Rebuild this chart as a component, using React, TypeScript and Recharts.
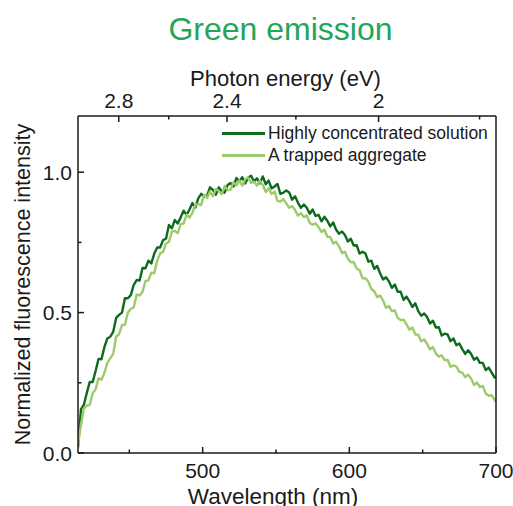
import React from 'react';
import { LineChart, Line, XAxis, YAxis, Legend, Label } from 'recharts';

// Emission spectra sampled on a 2 nm grid (plus the 700 nm end point)
const WAVELENGTH_NM = [
  415, 417, 419, 421, 423, 425, 427, 429, 431, 433, 435, 437, 439, 441, 443, 445,
  447, 449, 451, 453, 455, 457, 459, 461, 463, 465, 467, 469, 471, 473, 475, 477,
  479, 481, 483, 485, 487, 489, 491, 493, 495, 497, 499, 501, 503, 505, 507, 509,
  511, 513, 515, 517, 519, 521, 523, 525, 527, 529, 531, 533, 535, 537, 539, 541,
  543, 545, 547, 549, 551, 553, 555, 557, 559, 561, 563, 565, 567, 569, 571, 573,
  575, 577, 579, 581, 583, 585, 587, 589, 591, 593, 595, 597, 599, 601, 603, 605,
  607, 609, 611, 613, 615, 617, 619, 621, 623, 625, 627, 629, 631, 633, 635, 637,
  639, 641, 643, 645, 647, 649, 651, 653, 655, 657, 659, 661, 663, 665, 667, 669,
  671, 673, 675, 677, 679, 681, 683, 685, 687, 689, 691, 693, 695, 697, 699, 700,
];

const CONCENTRATED = [
  0.02, 0.155, 0.172, 0.214, 0.253, 0.253, 0.292, 0.335, 0.334, 0.377, 0.408, 0.414, 0.431, 0.481, 0.492, 0.5,
  0.551, 0.551, 0.562, 0.599, 0.616, 0.614, 0.659, 0.658, 0.685, 0.675, 0.71, 0.732, 0.732, 0.758, 0.763, 0.812,
  0.8, 0.83, 0.817, 0.839, 0.863, 0.848, 0.867, 0.89, 0.874, 0.907, 0.923, 0.914, 0.916, 0.946, 0.937, 0.92,
  0.946, 0.931, 0.927, 0.954, 0.961, 0.949, 0.979, 0.968, 0.982, 0.96, 0.98, 0.987, 0.967, 0.978, 0.96, 0.985,
  0.957, 0.97, 0.942, 0.949, 0.958, 0.923, 0.927, 0.935, 0.928, 0.902, 0.914, 0.891, 0.873, 0.885, 0.873, 0.852,
  0.867, 0.844, 0.848, 0.825, 0.841, 0.827, 0.807, 0.821, 0.795, 0.781, 0.789, 0.776, 0.753, 0.763, 0.739, 0.74,
  0.71, 0.717, 0.71, 0.681, 0.685, 0.656, 0.666, 0.64, 0.618, 0.626, 0.611, 0.588, 0.6, 0.574, 0.574, 0.545,
  0.557, 0.54, 0.52, 0.533, 0.505, 0.489, 0.497, 0.484, 0.461, 0.471, 0.447, 0.448, 0.418, 0.425, 0.422, 0.398,
  0.408, 0.384, 0.39, 0.37, 0.353, 0.366, 0.353, 0.332, 0.34, 0.321, 0.321, 0.295, 0.304, 0.287, 0.269, 0.27,
];

const AGGREGATE = [
  0.03, 0.1, 0.158, 0.169, 0.171, 0.213, 0.227, 0.266, 0.261, 0.285, 0.321, 0.337, 0.353, 0.415, 0.423, 0.456,
  0.457, 0.5, 0.513, 0.519, 0.564, 0.561, 0.574, 0.612, 0.615, 0.642, 0.64, 0.685, 0.711, 0.716, 0.746, 0.752,
  0.788, 0.791, 0.783, 0.815, 0.817, 0.849, 0.838, 0.855, 0.884, 0.887, 0.883, 0.92, 0.908, 0.931, 0.915, 0.94,
  0.933, 0.922, 0.951, 0.936, 0.938, 0.964, 0.953, 0.971, 0.952, 0.975, 0.981, 0.962, 0.966, 0.952, 0.97, 0.954,
  0.929, 0.943, 0.922, 0.931, 0.898, 0.895, 0.904, 0.889, 0.873, 0.879, 0.865, 0.845, 0.854, 0.84, 0.846, 0.819,
  0.813, 0.818, 0.804, 0.787, 0.795, 0.77, 0.769, 0.746, 0.752, 0.735, 0.712, 0.717, 0.692, 0.679, 0.68, 0.657,
  0.651, 0.622, 0.622, 0.61, 0.584, 0.576, 0.555, 0.561, 0.543, 0.517, 0.523, 0.505, 0.508, 0.481, 0.473, 0.475,
  0.458, 0.439, 0.447, 0.422, 0.421, 0.398, 0.404, 0.389, 0.369, 0.377, 0.354, 0.343, 0.348, 0.331, 0.331, 0.307,
  0.312, 0.308, 0.289, 0.286, 0.27, 0.279, 0.265, 0.242, 0.251, 0.235, 0.239, 0.212, 0.204, 0.206, 0.189, 0.182,
];

const SERIES_NAMES = ['Highly concentrated solution', 'A trapped aggregate'];

const WL_TICKS = [450, 500, 550, 600, 650, 700];
const WL_LABELS = ['', '500', '', '600', '', '700'];
const Y_TICKS = [0, 0.25, 0.5, 0.75, 1.0];
const Y_LABELS = ['0.0', '', '0.5', '', '1.0'];
const EV_TICKS = [2.8, 2.6, 2.4, 2.2, 2.0, 1.8];
const EV_LABELS = ['2.8', '', '2.4', '', '2', ''];

// photon energy (eV) <-> wavelength (nm)
const HC_EV_NM = 1239.84;

const DARK = '#0e6a1f';
const LIGHT = '#9dca6b';
const AXIS = '#1a1a1a';
const FONT = '"Liberation Sans", Arial, sans-serif';

const rows = WAVELENGTH_NM.map((wl, i) => ({
  wl,
  concentrated: CONCENTRATED[i],
  aggregate: AGGREGATE[i],
}));

const nmTicksForEv = EV_TICKS.map((e) => HC_EV_NM / e);

// Inward-pointing ticks: long for labelled values, short for minor ones
const BottomTick = (props: any) => {
  const { x, y, index } = props;
  const label = WL_LABELS[index] ?? '';
  const len = label ? 6 : 3.5;
  return (
    <g>
      <line x1={x} y1={y} x2={x} y2={y - len} stroke={AXIS} strokeWidth={1.5} />
      {label && (
        <text x={x} y={y + 25} textAnchor="middle" fontSize={21} fontFamily={FONT} fill="#1a1a1a">
          {label}
        </text>
      )}
    </g>
  );
};

const TopTick = (props: any) => {
  const { x, y, index } = props;
  const label = EV_LABELS[index] ?? '';
  const len = label ? 6 : 3.5;
  return (
    <g>
      <line x1={x} y1={y} x2={x} y2={y + len} stroke={AXIS} strokeWidth={1.5} />
      {label && (
        <text x={x} y={y - 8} textAnchor="middle" fontSize={21} fontFamily={FONT} fill="#1a1a1a">
          {label}
        </text>
      )}
    </g>
  );
};

const LeftTick = (props: any) => {
  const { x, y, index } = props;
  const label = Y_LABELS[index] ?? '';
  const len = label ? 6 : 3.5;
  return (
    <g>
      <line x1={x} y1={y} x2={x + len} y2={y} stroke={AXIS} strokeWidth={1.5} />
      {label && (
        <text x={x - 6} y={y + 7.5} textAnchor="end" fontSize={21} fontFamily={FONT} fill="#1a1a1a">
          {label}
        </text>
      )}
    </g>
  );
};

const LegendBox = () => (
  <div style={{ fontFamily: FONT, fontSize: 17.5, color: '#1a1a1a', lineHeight: '21.5px' }}>
    {SERIES_NAMES.map((name, i) => (
      <div key={name} style={{ display: 'flex', alignItems: 'center', height: 21.5 }}>
        <span
          style={{
            display: 'inline-block',
            width: 43,
            height: i === 0 ? 3 : 2.5,
            background: i === 0 ? DARK : LIGHT,
            marginRight: 3,
          }}
        />
        <span>{name}</span>
      </div>
    ))}
  </div>
);

export default function App() {
  return (
    <div style={{ position: 'absolute', left: 0, top: 0, width: 513, height: 506, background: '#fff' }}>
      <div
        style={{
          position: 'absolute',
          left: 0,
          top: 13,
          width: 561,
          textAlign: 'center',
          fontFamily: FONT,
          fontSize: 32,
          lineHeight: '32px',
          color: '#22a659',
          whiteSpace: 'nowrap',
        }}
      >
        Green emission
      </div>
      <LineChart
        width={513}
        height={506}
        data={rows}
        margin={{ top: 0, right: 0, bottom: 0, left: 0 }}
        style={{ position: 'absolute', left: 0, top: 0 }}
      >
        <XAxis
          xAxisId="bottom"
          dataKey="wl"
          type="number"
          domain={[415, 700]}
          allowDataOverflow
          ticks={WL_TICKS}
          interval={0}
          height={53}
          tickSize={0}
          tickMargin={0}
          tickLine={false}
          tick={<BottomTick />}
          axisLine={{ stroke: AXIS, strokeWidth: 1.5 }}
        >
          <Label
            content={(p: any) => {
              const vb = p.viewBox;
              return (
                <text
                  x={vb.x + vb.width / 2 - 14}
                  y={vb.y + 51}
                  textAnchor="middle"
                  fontSize={22.5}
                  fontFamily={FONT}
                  fill="#1a1a1a"
                >
                  Wavelength (nm)
                </text>
              );
            }}
          />
        </XAxis>
        <XAxis
          xAxisId="top"
          orientation="top"
          dataKey="wl"
          type="number"
          domain={[415, 700]}
          allowDataOverflow
          ticks={nmTicksForEv}
          interval={0}
          height={116}
          tickSize={0}
          tickMargin={0}
          tickLine={false}
          tick={<TopTick />}
          axisLine={{ stroke: AXIS, strokeWidth: 1.5 }}
        >
          <Label
            content={(p: any) => {
              const vb = p.viewBox;
              return (
                <text
                  x={vb.x + vb.width / 2 - 1.5}
                  y={vb.y + vb.height - 30}
                  textAnchor="middle"
                  fontSize={22}
                  fontFamily={FONT}
                  fill="#1a1a1a"
                >
                  Photon energy (eV)
                </text>
              );
            }}
          />
        </XAxis>
        <YAxis
          yAxisId="left"
          type="number"
          domain={[0, 1.2]}
          allowDataOverflow
          ticks={Y_TICKS}
          interval={0}
          width={78}
          tickSize={0}
          tickMargin={0}
          tickLine={false}
          tick={<LeftTick />}
          axisLine={{ stroke: AXIS, strokeWidth: 1.5 }}
        >
          <Label
            content={(p: any) => {
              const vb = p.viewBox;
              const cx = 30;
              const cy = vb.y + vb.height / 2;
              return (
                <text
                  x={cx}
                  y={cy}
                  transform={`rotate(-90, ${cx}, ${cy})`}
                  textAnchor="middle"
                  fontSize={21.5}
                  fontFamily={FONT}
                  fill="#1a1a1a"
                >
                  Normalized fluorescence intensity
                </text>
              );
            }}
          />
        </YAxis>
        <YAxis
          yAxisId="right"
          orientation="right"
          type="number"
          domain={[0, 1.2]}
          width={17}
          tick={false}
          tickLine={false}
          axisLine={{ stroke: AXIS, strokeWidth: 1.5 }}
        />
        <Legend
          layout="horizontal"
          verticalAlign="middle"
          align="center"
          content={<LegendBox />}
          wrapperStyle={{ left: 222, top: 123, width: 285, height: 44 }}
        />
        <Line
          xAxisId="bottom"
          yAxisId="left"
          type="linear"
          dataKey="concentrated"
          name={SERIES_NAMES[0]}
          stroke={DARK}
          strokeWidth={2.4}
          strokeLinejoin="round"
          dot={false}
          isAnimationActive={false}
        />
        <Line
          xAxisId="bottom"
          yAxisId="left"
          type="linear"
          dataKey="aggregate"
          name={SERIES_NAMES[1]}
          stroke={LIGHT}
          strokeWidth={2.4}
          strokeLinejoin="round"
          dot={false}
          isAnimationActive={false}
        />
      </LineChart>
    </div>
  );
}
